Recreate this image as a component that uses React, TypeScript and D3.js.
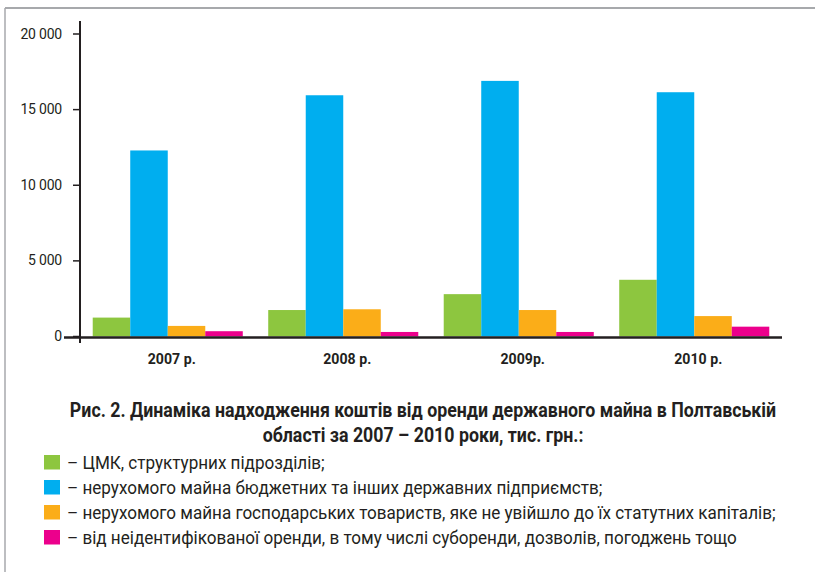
import React, { useRef, useEffect } from 'react';
import * as d3 from 'd3';

const years = ['2007 р.', '2008 р.', '2009р.', '2010 р.'];
const seriesNames = [
  '– ЦМК, структурних підрозділів;',
  '– нерухомого майна бюджетних та інших державних підприємств;',
  '– нерухомого майна господарських товариств, яке не увійшло до їх статутних капіталів;',
  '– від неідентифікованої оренди, в тому числі суборенди, дозволів, погоджень тощо',
];
const cmk = [1250, 1750, 2800, 3750];
const budget = [12300, 15950, 16900, 16150];
const companies = [700, 1800, 1750, 1350];
const unidentified = [350, 300, 300, 650];
const yTicks = [0, 5000, 10000, 15000, 20000];
const captionLines = [
  'Рис. 2. Динаміка надходження коштів від оренди державного майна в Полтавській',
  'області за 2007 – 2010 роки, тис. грн.:',
];
const colors = ['#8dc63f', '#00aeef', '#fbad18', '#ec008c'];

const W = 816;
const H = 572;
const FONT = "Roboto, 'Liberation Sans', sans-serif";
const INK = '#231f20';

// the reference uses a condensed face: squeeze a block of lines horizontally,
// one factor for the block, chosen so that one reference line gets the wanted width
const condense = (
  sel: d3.Selection<SVGTextElement, any, any, any>,
  refIndex: number,
  target: number,
  pos: (i: number) => [number, number]
) => {
  const nodes = sel.nodes();
  const k = target / nodes[refIndex].getComputedTextLength();
  nodes.forEach((n, i) => {
    const [px, py] = pos(i);
    n.setAttribute('x', '0');
    n.setAttribute('y', '0');
    n.setAttribute('transform', `translate(${px}, ${py}) scale(${k}, 1)`);
  });
};

const App = () => {
  const svgRef = useRef<SVGSVGElement | null>(null);

  useEffect(() => {
    if (!svgRef.current) return;
    const svg = d3.select(svgRef.current);
    svg.selectAll('*').remove();

    const series = [cmk, budget, companies, unidentified];
    const left = 80, right = 782, top = 34, bottom = 336.5;

    // outer frame (top and left edges only)
    svg.append('line').attr('x1', 5).attr('x2', 815).attr('y1', 8).attr('y2', 8)
      .attr('stroke', '#a7a9ac').attr('stroke-width', 2);
    svg.append('line').attr('x1', 5).attr('x2', 5).attr('y1', 8).attr('y2', H)
      .attr('stroke', '#a7a9ac').attr('stroke-width', 1.5);

    const y = d3.scaleLinear().domain([0, 20000]).range([bottom, top]);
    const x0 = d3.scaleBand<string>().domain(years).range([left, right])
      .paddingInner(0.145).paddingOuter(0.0725);
    const x1 = d3.scaleBand<number>().domain(d3.range(series.length)).range([0, x0.bandwidth()]);

    // bars
    years.forEach((yr, i) => {
      const g = svg.append('g').attr('transform', `translate(${x0(yr)}, 0)`);
      series.forEach((s, k) => {
        g.append('rect')
          .attr('x', x1(k)!)
          .attr('y', y(s[i]))
          .attr('width', x1.bandwidth())
          .attr('height', bottom - y(s[i]))
          .attr('fill', colors[k]);
      });
    });

    // y axis
    svg.append('line').attr('x1', left).attr('x2', left).attr('y1', 21).attr('y2', 343)
      .attr('stroke', INK).attr('stroke-width', 2);
    svg.selectAll('.ytick').data(yTicks).enter().append('line')
      .attr('x1', 73).attr('x2', left)
      .attr('y1', d => y(d)).attr('y2', d => y(d))
      .attr('stroke', INK).attr('stroke-width', 1.5);
    svg.selectAll('.ylab').data(yTicks).enter().append('text')
      .attr('x', 62).attr('y', d => y(d) + 4.5)
      .attr('text-anchor', 'end')
      .attr('fill', INK).attr('font-family', FONT).attr('font-size', '14px')
      .attr('letter-spacing', '-0.2px')
      .text(d => d3.format(',')(d).replace(',', ' '));

    // x axis
    svg.append('line').attr('x1', 64).attr('x2', right).attr('y1', bottom + 1).attr('y2', bottom + 1)
      .attr('stroke', INK).attr('stroke-width', 2.3);
    const xl = svg.selectAll('.xlab').data(years).enter().append('text')
      .attr('text-anchor', 'middle')
      .attr('fill', INK).attr('font-family', FONT).attr('font-size', '15px')
      .attr('font-weight', 'bold')
      .text(d => d);
    condense(xl as any, 0, 48, i => [x0(years[i])! + x0.bandwidth() / 2 + 4, 364]);

    // caption
    const cap = svg.selectAll('.cap').data(captionLines).enter().append('text')
      .attr('text-anchor', 'middle')
      .attr('fill', INK).attr('font-family', FONT).attr('font-size', '20px')
      .attr('font-weight', 'bold')
      .text(d => d);
    condense(cap as any, 0, 707, i => [423, 417 + i * 24.5]);

    // legend
    const legend = svg.append('g').attr('transform', 'translate(44, 469)');
    legend.selectAll('rect').data(seriesNames).enter().append('rect')
      .attr('x', 0).attr('y', (d, k) => k * 25 - 14)
      .attr('width', 16).attr('height', 14.5)
      .attr('fill', (d, k) => colors[k]);
    const lt = legend.selectAll('text').data(seriesNames).enter().append('text')
      .attr('fill', INK).attr('font-family', FONT).attr('font-size', '18px')
      .text(d => d);
    condense(lt as any, 2, 709, k => [23, k * 25]);
  }, []);

  return (
    <svg ref={svgRef} width={W} height={H}
      style={{ position: 'absolute', left: 0, top: 0, background: '#fff' }} />
  );
};

export default App;
